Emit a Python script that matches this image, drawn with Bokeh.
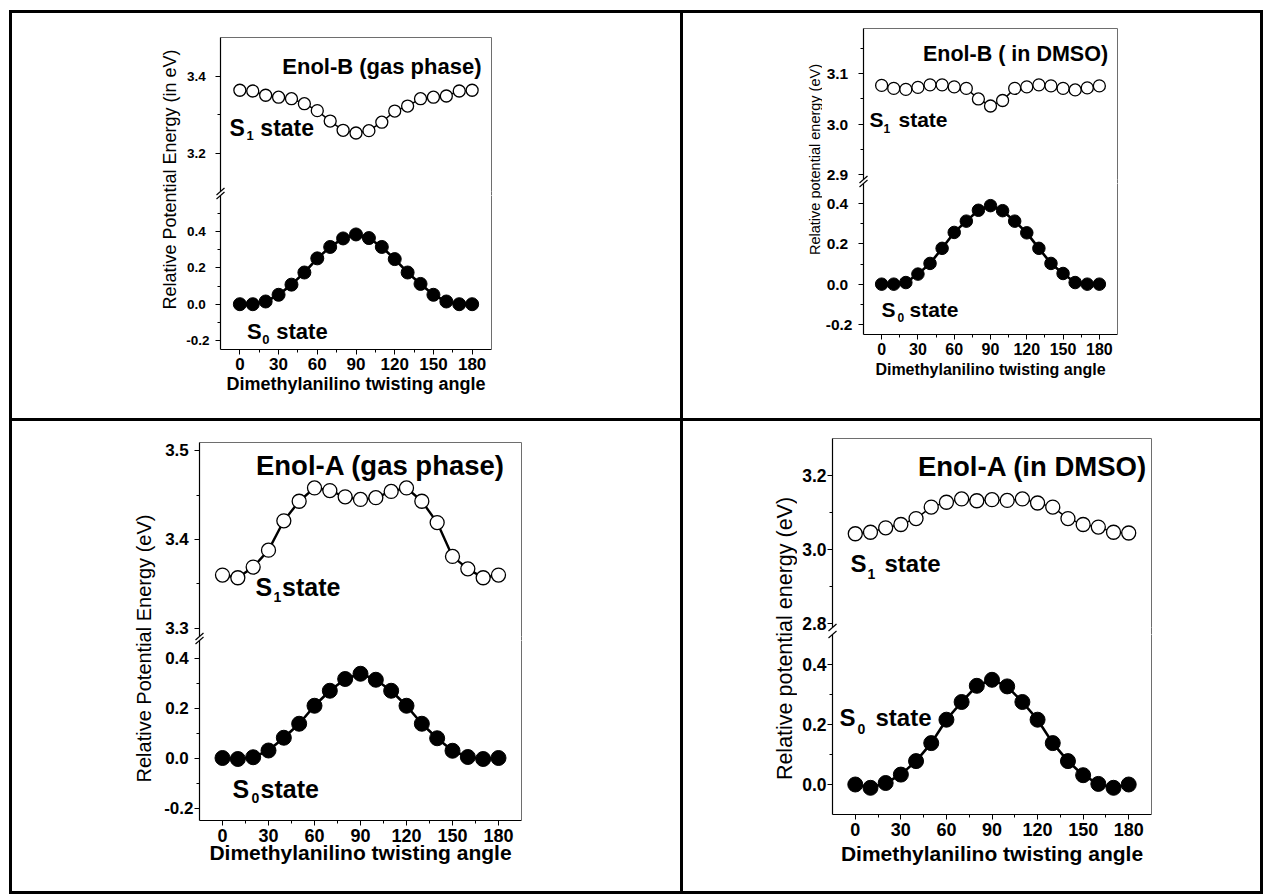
from math import pi

from bokeh.plotting import figure
from bokeh.layouts import row, column
from bokeh.core.properties import value
from bokeh.models import (Range1d, LinearAxis, FixedTicker, Label, Spacer,
                          PrintfTickFormatter, CustomJSTickFormatter)
from bokeh.embed import file_html
from bokeh.resources import INLINE

FONT = "Liberation Sans"
INK = "black"
FRAME = "#6e6e6e"

# ---------------------------------------------------------------- data
angles = [0, 10, 20, 30, 40, 50, 60, 70, 80, 90, 100, 110, 120, 130, 140, 150, 160, 170, 180]
x_major = [0, 30, 60, 90, 120, 150, 180]
x_minor = [15, 45, 75, 105, 135, 165]

enol_b_gas_s1 = [3.363, 3.361, 3.350, 3.345, 3.341, 3.328, 3.310, 3.283, 3.259, 3.252,
                 3.258, 3.280, 3.309, 3.322, 3.341, 3.345, 3.348, 3.361, 3.363]
enol_b_gas_s0 = [0.000, 0.000, 0.015, 0.052, 0.108, 0.175, 0.253, 0.316, 0.363, 0.385,
                 0.365, 0.316, 0.249, 0.175, 0.112, 0.052, 0.015, 0.000, 0.000]

enol_b_dmso_s1 = [3.077, 3.071, 3.069, 3.073, 3.078, 3.078, 3.074, 3.071, 3.050, 3.036,
                  3.047, 3.071, 3.074, 3.078, 3.076, 3.071, 3.068, 3.072, 3.076]
enol_b_dmso_s0 = [0.000, 0.000, 0.008, 0.050, 0.103, 0.178, 0.257, 0.313, 0.367, 0.390,
                  0.365, 0.313, 0.255, 0.178, 0.103, 0.053, 0.008, 0.000, 0.000]

enol_a_gas_s1 = [3.360, 3.357, 3.369, 3.388, 3.421, 3.443, 3.458, 3.455, 3.448, 3.445,
                 3.447, 3.454, 3.458, 3.443, 3.419, 3.381, 3.367, 3.357, 3.360]
enol_a_gas_s0 = [0.000, -0.004, 0.003, 0.030, 0.081, 0.137, 0.209, 0.269, 0.316, 0.337,
                 0.313, 0.269, 0.209, 0.137, 0.079, 0.029, 0.004, -0.004, 0.000]

enol_a_dmso_s1 = [3.043, 3.047, 3.059, 3.068, 3.084, 3.115, 3.128, 3.137, 3.132, 3.135,
                  3.133, 3.137, 3.126, 3.115, 3.084, 3.068, 3.061, 3.047, 3.045]
enol_a_dmso_s0 = [0.000, -0.011, 0.005, 0.033, 0.078, 0.138, 0.216, 0.275, 0.329, 0.349,
                  0.327, 0.275, 0.216, 0.138, 0.078, 0.031, 0.002, -0.011, 0.000]

# ---------------------------------------------------------------- table geometry (page pixels)
RULE = 3          # thickness of the table lines
MARGIN_LEFT = 9
MARGIN_TOP = 10

panels = [
    dict(cell=(12, 13, 668, 405), lab0=157, fx=183, fl=219, fr=491, xr=(-15, 195),
         ut=37, ub=191, ur=(3.1, 3.5), up_major=[3.2, 3.4], up_minor=[3.3],
         lt=195, lb=349, lr=(-0.25, 0.6), lo_major=[-0.2, 0.0, 0.2, 0.4], lo_minor=[-0.1, 0.1, 0.3, 0.5],
         s1=enol_b_gas_s1, s0=enol_b_gas_s0,
         title="Enol-B (gas phase)", title_at=(381, 65.5), title_size=22,
         s1_label=((228, 127.5), (245, 135), (259, 127.5), "1", "state", 23, 13),
         s0_label=((245.5, 330.5), (261, 339), (275, 330.5), "0", "state", 22, 13),
         ylabel="Relative Potential Energy (in eV)", ylabel_at=(169, 179), ylabel_size=18,
         ytick_size=13.5, ytick_standoff=6, pad_labels=True,
         xtick_size=17, xtitle_size=18, xtitle_standoff=1,
         open_size=12, fill_size=13, s1_width=1.5),
    dict(cell=(683, 13, 577, 405), lab0=795, fx=822, fl=863, fr=1117, xr=(-15, 195),
         ut=28, ub=179, ur=(2.89, 3.19), up_major=[2.9, 3.0, 3.1], up_minor=[2.95, 3.05, 3.15],
         lt=183, lb=334, lr=(-0.25, 0.5), lo_major=[-0.2, 0.0, 0.2, 0.4], lo_minor=[-0.1, 0.1, 0.3],
         s1=enol_b_dmso_s1, s0=enol_b_dmso_s0,
         title="Enol-B ( in DMSO)", title_at=(1015, 53.3), title_size=21.5,
         s1_label=((869, 119), (883, 128), (898, 119), "1", "state", 21, 12),
         s0_label=((881, 309), (897, 316.5), (909, 309), "0", "state", 21, 12),
         ylabel="Relative potential energy (eV)", ylabel_at=(814, 159), ylabel_size=14.5,
         ytick_size=15.5, ytick_standoff=6, pad_labels=True,
         xtick_size=16, xtitle_size=16, xtitle_standoff=3,
         open_size=12, fill_size=12.5, s1_width=1.5),
    dict(cell=(12, 421, 668, 470), lab0=125, fx=160, fl=199, fr=521, xr=(-15, 195),
         ut=442, ub=636, ur=(3.291, 3.509), up_major=[3.3, 3.4, 3.5], up_minor=[3.35, 3.45],
         lt=640, lb=820, lr=(-0.25, 0.47), lo_major=[-0.2, 0.0, 0.2, 0.4], lo_minor=[-0.1, 0.1, 0.3],
         s1=enol_a_gas_s1, s0=enol_a_gas_s0,
         title="Enol-A (gas phase)", title_at=(380, 465), title_size=27.5,
         s1_label=((255, 586.5), (273, 596.5), (281.5, 586.5), "1", "state", 25, 14),
         s0_label=((232, 788), (251, 797), (260, 788), "0", "state", 25, 14),
         ylabel="Relative Potential Energy (eV)", ylabel_at=(143, 648), ylabel_size=20,
         ytick_size=17, ytick_standoff=1, pad_labels=True,
         xtick_size=18, xtitle_size=21, xtitle_standoff=-4,
         open_size=14, fill_size=15, s1_width=2.4),
    dict(cell=(683, 421, 577, 470), lab0=768, fx=797, fl=832, fr=1151, xr=(-15, 195),
         ut=438, ub=627, ur=(2.79, 3.30), up_major=[2.8, 3.0, 3.2], up_minor=[2.9, 3.1],
         lt=634, lb=814, lr=(-0.10, 0.50), lo_major=[0.0, 0.2, 0.4], lo_minor=[0.1, 0.3],
         s1=enol_a_dmso_s1, s0=enol_a_dmso_s0,
         title="Enol-A (in DMSO)", title_at=(1032, 466), title_size=27.5,
         s1_label=((850, 563.3), (867, 573), (884, 563.3), "1", "state", 24, 14),
         s0_label=((839, 717.3), (857, 728), (875, 717.3), "0", "state", 24, 14),
         ylabel="Relative potential energy (eV)", ylabel_at=(784, 638), ylabel_size=21.5,
         ytick_size=17.5, ytick_standoff=1, pad_labels=False,
         xtick_size=18, xtitle_size=21, xtitle_standoff=3,
         open_size=14, fill_size=15, s1_width=1.5),
]


# ---------------------------------------------------------------- helpers
def px_x(sp, px):
    x0, x1 = sp["xr"]
    return x0 + (px - sp["fl"]) * (x1 - x0) / (sp["fr"] - sp["fl"])


def py_up(sp, py):
    y0, y1 = sp["ur"]
    return y1 - (py - sp["ut"]) * (y1 - y0) / (sp["ub"] - sp["ut"])


def py_lo(sp, py):
    y0, y1 = sp["lr"]
    return y1 - (py - sp["lt"]) * (y1 - y0) / (sp["lb"] - sp["lt"])


def blank_side(p, side):
    ax = LinearAxis(ticker=FixedTicker(ticks=[], minor_ticks=[]),
                    axis_line_color=FRAME, axis_line_width=1,
                    major_tick_line_color=None, minor_tick_line_color=None,
                    major_tick_out=0, major_tick_in=0, minor_tick_out=0, minor_tick_in=0,
                    major_label_text_font_size="0px", major_label_standoff=0)
    p.add_layout(ax, side)


def style_axis(ax, major, minor, size, standoff):
    ax.ticker = FixedTicker(ticks=major, minor_ticks=minor)
    ax.axis_line_color = INK
    ax.axis_line_width = 1.2
    ax.major_tick_line_color = INK
    ax.minor_tick_line_color = INK
    ax.major_tick_out = 5
    ax.major_tick_in = 0
    ax.minor_tick_out = 3
    ax.minor_tick_in = 0
    ax.major_label_text_font = FONT
    ax.major_label_text_font_style = "bold"
    ax.major_label_text_font_size = f"{size}px"
    ax.major_label_text_color = INK
    ax.major_label_standoff = standoff


def y_formatter(pad):
    if pad:
        # non-negative labels get a trailing no-break space so that the
        # digits of every label line up on their left side
        return CustomJSTickFormatter(
            code="const s = tick.toFixed(1); return tick < 0 ? s : s + '\\u00a0';")
    return PrintfTickFormatter(format="%.1f")


def base_fig(width, height, sp, yr, mbt, mbb, xloc):
    p = figure(width=width, height=height,
               x_range=Range1d(*sp["xr"]), y_range=Range1d(*yr),
               x_axis_location=xloc, y_axis_location="left",
               min_border_left=sp["fl"] - sp["fx"],
               min_border_right=sp["cell"][0] + sp["cell"][2] - sp["fr"],
               min_border_top=mbt, min_border_bottom=mbb,
               toolbar_location=None, output_backend="svg",
               outline_line_color=None, background_fill_color="white",
               border_fill_color="white")
    p.grid.visible = False
    return p


def text(p, x, y, s, size):
    p.add_layout(Label(x=x, y=y, text=s, text_font=FONT, text_font_style="bold",
                       text_font_size=f"{size}px", text_color=INK,
                       text_align="left", text_baseline="alphabetic"))


def state_label(p, sp, conv, spec):
    (sx, sy), (nx, ny), (tx, ty), sub, word, size, sub_size = spec
    text(p, px_x(sp, sx), conv(sp, sy), "S", size)
    text(p, px_x(sp, nx), conv(sp, ny), sub, sub_size)
    text(p, px_x(sp, tx), conv(sp, ty), word, size)


def label_strip(sp):
    # narrow canvas to the left of the axes that carries the y-axis title
    x0, y0, w, h = sp["cell"]
    p = figure(width=sp["fx"] - sp["lab0"], height=h,
               x_range=Range1d(sp["lab0"], sp["fx"]), y_range=Range1d(0, h),
               x_axis_location=None, y_axis_location=None, min_border=0,
               toolbar_location=None, output_backend="svg",
               outline_line_color=None, background_fill_color="white",
               border_fill_color="white")
    p.grid.visible = False
    lx, ly = sp["ylabel_at"]
    p.text(x=[lx], y=[y0 + h - ly], text=[sp["ylabel"]], angle=pi / 2,
           text_font=value(FONT), text_font_size=value(f"{sp['ylabel_size']}px"),
           text_font_style="normal", text_color=INK,
           text_align="center", text_baseline="alphabetic")
    return p


def make_panel(sp):
    x0, y0, w, h = sp["cell"]
    cw = x0 + w - sp["fx"]

    # the upper canvas holds the break gap, the lower one starts at its frame
    up = base_fig(cw, sp["lt"] - y0, sp, sp["ur"], sp["ut"] - y0, sp["lt"] - sp["ub"], None)
    lo = base_fig(cw, y0 + h - sp["lt"], sp, sp["lr"], 0, y0 + h - sp["lb"], "below")

    # axes and frame edges
    style_axis(up.yaxis[0], sp["up_major"], sp["up_minor"], sp["ytick_size"], sp["ytick_standoff"])
    up.yaxis[0].formatter = y_formatter(sp["pad_labels"])
    blank_side(up, "above")
    blank_side(up, "right")

    style_axis(lo.yaxis[0], sp["lo_major"], sp["lo_minor"], sp["ytick_size"], sp["ytick_standoff"])
    lo.yaxis[0].formatter = y_formatter(sp["pad_labels"])
    style_axis(lo.xaxis[0], x_major, x_minor, sp["xtick_size"], 3)
    lo.xaxis[0].formatter = PrintfTickFormatter(format="%d")
    lo.xaxis[0].axis_label = "Dimethylanilino twisting angle"
    lo.xaxis[0].axis_label_text_font = FONT
    lo.xaxis[0].axis_label_text_font_style = "bold"
    lo.xaxis[0].axis_label_text_font_size = f"{sp['xtitle_size']}px"
    lo.xaxis[0].axis_label_text_color = INK
    lo.xaxis[0].axis_label_standoff = sp["xtitle_standoff"]
    blank_side(lo, "right")

    # S1 curve (open circles) and S0 curve (filled circles)
    up.line(angles, sp["s1"], line_color=INK, line_width=sp["s1_width"])
    up.scatter(angles, sp["s1"], marker="circle", size=sp["open_size"],
               fill_color="white", line_color=INK, line_width=1.3)
    lo.line(angles, sp["s0"], line_color=INK, line_width=2.6)
    lo.scatter(angles, sp["s0"], marker="circle", size=sp["fill_size"],
               fill_color=INK, line_color=INK, line_width=1)

    # right frame edge across the axis break
    xr1 = sp["xr"][1]
    up.segment(x0=[xr1], y0=[sp["ur"][0]], x1=[xr1], y1=[py_up(sp, sp["lt"] + 1)],
               line_color=FRAME, line_width=1, level="overlay")

    # axis-break marks on the left axis
    fl = sp["fl"]
    for yb in (sp["ub"], sp["lt"]):
        for p, conv in ((up, py_up), (lo, py_lo)):
            p.segment(x0=[px_x(sp, fl - 4)], y0=[conv(sp, yb + 3.5)],
                      x1=[px_x(sp, fl + 4)], y1=[conv(sp, yb - 3.5)],
                      line_color=INK, line_width=1.2, level="overlay")

    # panel title and state labels
    tx, ty = sp["title_at"]
    up.add_layout(Label(x=px_x(sp, tx), y=py_up(sp, ty), text=sp["title"], text_font=FONT,
                        text_font_style="bold", text_font_size=f"{sp['title_size']}px",
                        text_color=INK, text_align="center", text_baseline="alphabetic"))
    state_label(up, sp, py_up, sp["s1_label"])
    state_label(lo, sp, py_lo, sp["s0_label"])

    return row(Spacer(width=sp["lab0"] - x0, height=h), label_strip(sp), column(up, lo))


def rule(width, height):
    return Spacer(width=width, height=height, styles={"background-color": INK})


cells = [make_panel(sp) for sp in panels]

top_h = panels[0]["cell"][3]
bot_h = panels[2]["cell"][3]
table_w = RULE + panels[0]["cell"][2] + RULE + panels[1]["cell"][2] + RULE

layout = column(
    Spacer(width=MARGIN_LEFT + table_w, height=MARGIN_TOP),
    row(Spacer(width=MARGIN_LEFT, height=RULE), rule(table_w, RULE)),
    row(Spacer(width=MARGIN_LEFT, height=top_h), rule(RULE, top_h), cells[0],
        rule(RULE, top_h), cells[1], rule(RULE, top_h)),
    row(Spacer(width=MARGIN_LEFT, height=RULE), rule(table_w, RULE)),
    row(Spacer(width=MARGIN_LEFT, height=bot_h), rule(RULE, bot_h), cells[2],
        rule(RULE, bot_h), cells[3], rule(RULE, bot_h)),
    row(Spacer(width=MARGIN_LEFT, height=RULE), rule(table_w, RULE)),
)

open("out.html", "w").write(file_html(layout, INLINE))
